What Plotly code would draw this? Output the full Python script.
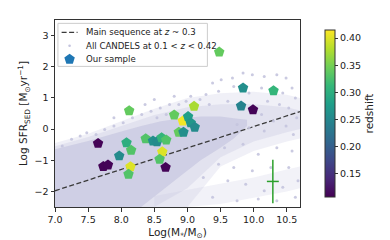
import plotly.graph_objects as go

# ---- data ----
# Our sample: log stellar mass, log SFR, redshift
sample_mass = [8.12, 8.80, 9.10, 8.93, 9.01, 9.05, 9.11, 8.87, 8.94, 7.65,
               8.08, 8.15, 7.97, 8.37, 8.48, 8.54, 8.61, 8.68, 8.62, 8.58,
               8.67, 7.73, 7.80, 8.14, 8.11, 9.48, 9.84, 10.30, 9.81, 9.99]
sample_sfr = [0.59, 0.45, 0.73, 0.26, 0.40, 0.20, 0.06, -0.10, -0.10, -0.46,
              -0.44, -0.68, -0.86, -0.31, -0.38, -0.41, -0.28, -0.35, -0.73, -0.97,
              -1.23, -1.20, -1.15, -1.21, -1.45, 2.47, 1.32, 1.23, 0.74, 0.62]
sample_z = [0.34, 0.34, 0.375, 0.41, 0.28, 0.27, 0.255, 0.34, 0.26, 0.11,
            0.30, 0.33, 0.255, 0.33, 0.26, 0.255, 0.31, 0.33, 0.40, 0.33,
            0.11, 0.11, 0.11, 0.40, 0.33, 0.34, 0.26, 0.31, 0.245, 0.11]

# Main sequence line end points
ms_mass = [7.0, 10.7]
ms_sfr = [-1.98, 0.56]

# CANDELS cloud: envelopes of the sparse halo, the medium band, the dense core
# and the lower (passive) band
halo_x = [7.0, 7.5, 8.0, 8.5, 9.0, 9.5, 10.0, 10.5, 10.7]
halo_top = [-0.45, -0.15, 0.25, 0.65, 1.0, 1.15, 1.2, 1.1, 1.0]
halo_bot = [-2.5, -2.5, -2.5, -2.5, -2.5, -1.2, -0.7, -0.4, -0.3]

mid_x = [7.0, 7.5, 8.0, 8.5, 9.0, 9.5, 10.0, 10.5, 10.7]
mid_top = [-0.55, -0.25, 0.1, 0.45, 0.7, 0.8, 0.8, 0.7, 0.6]
mid_bot = [-2.5, -2.5, -2.5, -2.5, -1.9, -0.9, -0.4, -0.1, 0.0]

core_x = [7.0, 7.5, 8.0, 8.3, 8.6, 8.9, 9.2, 9.5, 9.7, 9.9]
core_top = [-0.65, -0.38, -0.08, 0.1, 0.25, 0.35, 0.4, 0.4, 0.35, 0.3]
core_bot = [-2.5, -2.5, -2.5, -2.5, -2.0, -1.5, -1.0, -0.6, -0.3, 0.1]

low_x = [8.5, 9.0, 9.5, 10.0, 10.5, 10.7]
low_top = [-2.15, -1.95, -1.75, -1.55, -1.3, -1.2]
low_bot = [-2.5, -2.5, -2.4, -2.2, -2.0, -1.9]

# scattered individual CANDELS galaxies
dots_mass = [9.38, 9.51, 9.68, 9.84, 9.98, 10.16, 10.35, 10.49, 10.58, 10.63,
             10.44, 10.12, 9.93, 9.70, 9.47, 9.28, 9.19, 9.05, 8.87, 8.98,
             9.33, 9.61, 10.21, 10.39, 10.53, 10.65, 10.12, 10.30, 10.49, 10.60,
             10.16, 9.93, 9.75,
             9.56, 9.84, 10.07, 10.35, 10.58, 9.47, 9.70, 9.98, 10.26, 10.53,
             9.24, 9.61, 9.88, 10.16, 10.44, 10.67, 9.38, 9.75, 10.07, 10.35, 10.63,
             7.11, 7.25, 7.38, 7.48, 7.62, 7.75, 7.89, 8.03, 8.17, 8.31,
             8.45, 8.59, 8.73, 8.36, 8.50, 8.17, 7.89, 8.54, 8.68, 8.80]
dots_sfr = [1.48, 1.58, 1.64, 1.80, 1.74, 1.69, 1.74, 1.64, 1.32, 1.00,
            1.16, 1.32, 1.16, 1.37, 1.21, 1.11, 0.95, 1.05, 0.79, 0.89,
            0.79, 0.89, 0.89, 0.79, 0.68, 0.36, 0.47, 0.26, 0.10, -0.17,
            -0.06, 0.04, 0.15,
            -0.60, -0.49, -0.81, -0.60, -0.70, -1.13, -1.23, -1.34, -1.23, -1.23,
            -1.55, -1.66, -1.77, -1.98, -1.87, -1.66, -2.19, -2.30, -2.24, -2.30, -2.19,
            -0.54, -0.33, -0.22, -0.12, -0.17, -0.01, 0.10, 0.20, 0.36, 0.47,
            0.57, 0.68, 0.79, 0.79, 0.95, 0.63, 0.36, 0.36, 0.47, 1.05]

# typical error bar
err_mass = [10.29]
err_sfr = [-1.68]
err_dx = [0.09]
err_dy = [0.70]

# legend labels
legend_labels = ["Main sequence at <i>z</i> ~ 0.3",
                 "All CANDELS at 0.1 &lt; <i>z</i> &lt; 0.42",
                 "Our sample"]

Z_MIN, Z_MAX = 0.107, 0.415
FONT = "DejaVu Sans"
CLOUD = "rgb(196,196,222)"
MS_COLOR = "#3a3a3a"
MS_DASH = "5px,2.5px"


def band(xs, top, bot):
    return xs + xs[::-1], top + bot[::-1]


fig = go.Figure()

for xs, top, bot, op in [(halo_x, halo_top, halo_bot, 0.25),
                         (low_x, low_top, low_bot, 0.22),
                         (mid_x, mid_top, mid_bot, 0.3),
                         (core_x, core_top, core_bot, 0.65)]:
    px, py = band(xs, top, bot)
    fig.add_trace(go.Scatter(x=px, y=py, mode="lines", fill="toself",
                             fillcolor=CLOUD, opacity=op, line=dict(width=0),
                             showlegend=False, hoverinfo="skip"))

fig.add_trace(go.Scatter(
    x=ms_mass, y=ms_sfr, mode="lines", showlegend=False,
    line=dict(color=MS_COLOR, width=1.3, dash=MS_DASH),
    name=legend_labels[0]))

fig.add_trace(go.Scatter(
    x=dots_mass, y=dots_sfr, mode="markers", showlegend=False,
    marker=dict(size=3, color=CLOUD, opacity=0.9),
    name=legend_labels[1]))

fig.add_trace(go.Scatter(
    x=sample_mass, y=sample_sfr, mode="markers", showlegend=False,
    name=legend_labels[2],
    marker=dict(symbol="pentagon", size=11, color=sample_z,
                colorscale="Viridis", cmin=Z_MIN, cmax=Z_MAX,
                line=dict(width=0),
                colorbar=dict(
                    x=1.063, xanchor="left", y=0.5, yanchor="middle",
                    len=1.0, lenmode="fraction", thickness=10,
                    outlinewidth=1, outlinecolor="#333",
                    ticks="outside", ticklen=3, tickcolor="#333",
                    tickvals=[0.15, 0.20, 0.25, 0.30, 0.35, 0.40],
                    ticktext=["0.15", "0.20", "0.25", "0.30", "0.35", "0.40"],
                    tickfont=dict(size=9.5, color="#222", family=FONT),
                    title=dict(text="redshift", side="right",
                               font=dict(size=10.5, color="#222", family=FONT)),
                ))))

fig.add_trace(go.Scatter(
    x=err_mass, y=err_sfr, mode="markers",
    marker=dict(size=1, color="#2ca02c"),
    error_x=dict(type="data", array=err_dx, color="#2ca02c", thickness=1.5, width=0),
    error_y=dict(type="data", array=err_dy, color="#2ca02c", thickness=1.5, width=0),
    showlegend=False, hoverinfo="skip"))

# ---- hand-drawn legend box (paper coordinates) ----
box = dict(x0=0.012, x1=0.622, y0=0.752, y1=0.982)
row_y = [0.934, 0.862, 0.790]
sym_x0, sym_x1, txt_x = 0.027, 0.092, 0.120
sym_xc = (sym_x0 + sym_x1) / 2

shapes = [dict(type="rect", xref="paper", yref="paper", layer="above",
               fillcolor="rgba(255,255,255,0.85)",
               line=dict(color="#cccccc", width=1), **box),
          dict(type="line", xref="paper", yref="paper", layer="above",
               x0=sym_x0, x1=sym_x1, y0=row_y[0], y1=row_y[0],
               line=dict(color=MS_COLOR, width=1.3, dash=MS_DASH)),
          dict(type="circle", xref="paper", yref="paper", layer="above",
               xsizemode="pixel", ysizemode="pixel", xanchor=sym_xc, yanchor=row_y[1],
               x0=-1.3, x1=1.3, y0=-1.3, y1=1.3,
               fillcolor=CLOUD, line=dict(width=0)),
          dict(type="path", xref="paper", yref="paper", layer="above",
               xsizemode="pixel", ysizemode="pixel", xanchor=sym_xc, yanchor=row_y[2],
               path="M 0 5.5 L 5.23 1.7 L 3.23 -4.45 L -3.23 -4.45 L -5.23 1.7 Z",
               fillcolor="#1f77b4", line=dict(width=0))]

annotations = [dict(text=lab, xref="paper", yref="paper", x=txt_x, y=yy,
                    xanchor="left", yanchor="middle", showarrow=False,
                    font=dict(size=8.6, family=FONT, color="#222"))
               for lab, yy in zip(legend_labels, row_y)]

axis_common = dict(showline=True, linecolor="#333", linewidth=1, mirror=True,
                   ticks="outside", ticklen=3.5, tickcolor="#333",
                   showgrid=False, zeroline=False,
                   tickfont=dict(size=9.5, color="#222", family=FONT))

fig.update_layout(
    width=390, height=240,
    margin=dict(l=47, r=76, t=12, b=41),
    paper_bgcolor="white", plot_bgcolor="white",
    font=dict(family=FONT, color="#222"),
    showlegend=False,
    shapes=shapes, annotations=annotations,
    xaxis=dict(range=[7.0, 10.7], tickvals=[7.0, 7.5, 8.0, 8.5, 9.0, 9.5, 10.0, 10.5],
               ticktext=["7.0", "7.5", "8.0", "8.5", "9.0", "9.5", "10.0", "10.5"],
               title=dict(text="Log(M<sub>*</sub>/M<sub>⊙</sub>)", standoff=4,
                          font=dict(size=10.5, family=FONT)),
               **axis_common),
    yaxis=dict(range=[-2.5, 3.5], tickvals=[-2, -1, 0, 1, 2, 3],
               title=dict(text="Log SFR<sub>SED</sub> [M<sub>⊙</sub>yr<sup>−1</sup>]",
                          standoff=4, font=dict(size=10.5, family=FONT)),
               **axis_common),
)

fig.write_html("out.html")
